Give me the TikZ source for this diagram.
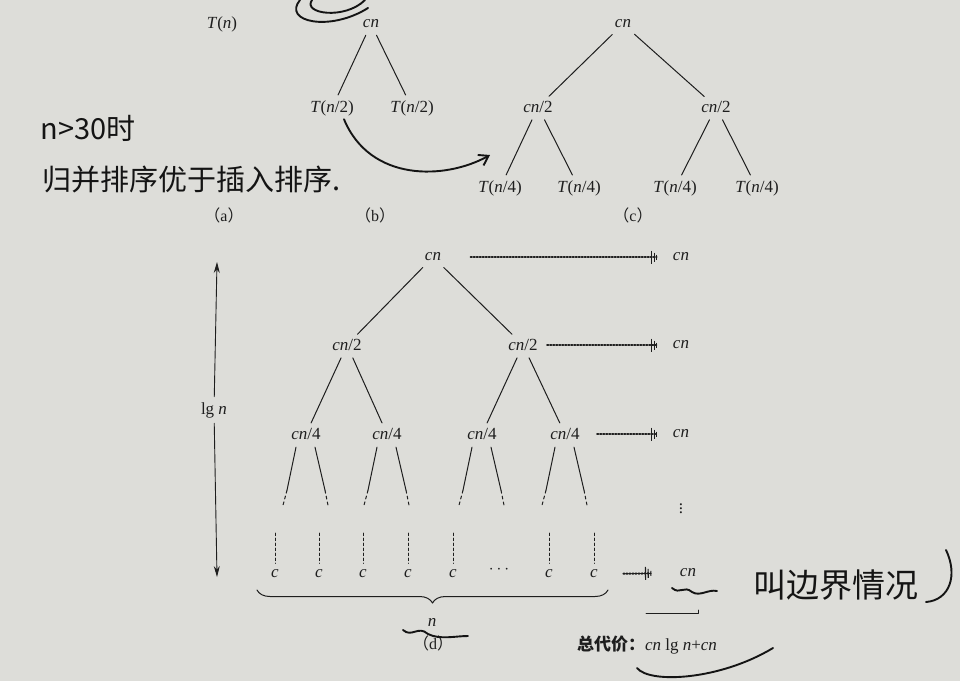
\documentclass[tikz,border=0pt]{standalone}
\usepackage{fontspec}
\setmainfont{Liberation Serif}
\newfontfamily\cjk{Noto Sans CJK SC}
\usetikzlibrary{positioning,arrows.meta,decorations.pathreplacing}

\definecolor{paper}{RGB}{221,221,217}
\definecolor{ink}{RGB}{30,30,30}

\newcommand\mi[1]{\textit{#1}}

\tikzset{
  edge/.style={ink, line width=1pt, shorten <=4pt, shorten >=2pt},
  costline/.style={ink, line width=2pt, dash pattern=on 1.3pt off 1.7pt,
    -{Bar[width=13pt,line width=1.1pt,sep=1.6pt]Bar[width=9pt,line width=1.1pt,sep=1.6pt]Bar[width=5pt,line width=1.1pt]}},
  axis/.style={ink, line width=0.9pt, -{Stealth[length=11pt,width=6pt]}},
  hand/.style={black!92, line width=1.9pt},
  handtext/.style={black!92, font=\cjk\fontsize{29}{32}\selectfont},
  caption/.style={font=\fontsize{16}{18}\selectfont},
}

\begin{document}
\begin{tikzpicture}[x=1pt, y=-1pt, line cap=round, line join=round,
  every node/.style={ink, font=\fontsize{17}{20}\selectfont}]

\fill[paper] (0,0) rectangle (960,681);
\useasboundingbox (0,0) rectangle (960,681);

% (a)
\node (Tn) at (222,24) {\mi{T}(\mi{n})};
\node[caption] (capa) at (224,215) {{\cjk（}a{\cjk）}};

% (b)
\node (b0) at (371,24) {\mi{cn}};
\node (b1) at (332,108) {\mi{T}(\mi{n}/2)};
\node (b2) at (412,108) {\mi{T}(\mi{n}/2)};
\draw[edge] (b0) -- (b1);
\draw[edge] (b0) -- (b2);
\node[caption] (capb) at (375,215) {{\cjk（}b{\cjk）}};

% (c)
\node (c0) at (623,24) {\mi{cn}};
\node (c1) at (538,107) {\mi{cn}/2};
\node (c2) at (716,107) {\mi{cn}/2};
\foreach \x [count=\i] in {500,579,675,757} {
    \node (c1\i) at (\x,188) {\mi{T}(\mi{n}/4)};
}
\draw[edge] (c0) -- (c1);
\draw[edge] (c0) -- (c2);
\draw[edge] (c1) -- (c11);
\draw[edge] (c1) -- (c12);
\draw[edge] (c2) -- (c13);
\draw[edge] (c2) -- (c14);
\node[caption] (capc) at (633,215) {{\cjk（}c{\cjk）}};

% (d) recursion tree
\node (d0) at (433,257) {\mi{cn}};
\node (d1) at (347,345) {\mi{cn}/2};
\node (d2) at (523,345) {\mi{cn}/2};
\node (d11) at (306,434) {\mi{cn}/4};
\node (d12) at (387,434) {\mi{cn}/4};
\node (d21) at (482,434) {\mi{cn}/4};
\node (d22) at (565,434) {\mi{cn}/4};
\draw[edge] (d0) -- (d1);
\draw[edge] (d0) -- (d2);
\draw[edge] (d1) -- (d11);
\draw[edge] (d1) -- (d12);
\draw[edge] (d2) -- (d21);
\draw[edge] (d2) -- (d22);

\foreach \n in {d11,d12,d21,d22} {
    \draw[ink, line width=1pt] ([xshift=-10pt,yshift=-4pt]\n.south) -- ++(-9,43) coordinate (\n-l);
    \draw[ink, line width=1pt, dash pattern=on 3pt off 3pt] (\n-l) -- ++(-4,15);
    \draw[ink, line width=1pt] ([xshift=9pt,yshift=-4pt]\n.south) -- ++(10,43) coordinate (\n-r);
    \draw[ink, line width=1pt, dash pattern=on 3pt off 3pt] (\n-r) -- ++(3,15);
}

% leaves
\foreach \x [count=\i] in {275,319,363,408,453,549,594} {
    \node (leaf\i) at (\x,574) {\mi{c}};
    \coordinate (lt\i) at (\x,533);
    \draw[ink, line width=1pt, dash pattern=on 2.5pt off 2.5pt, shorten >=3pt] (lt\i) -- (leaf\i);
}
\node (ldots) at (499,570) {$\cdots$};

% cost per level
\node (s0) at (681,257) {\mi{cn}};
\node (s1) at (681,345) {\mi{cn}};
\node (s2) at (681,434) {\mi{cn}};
\node (sv) at (681,506) {$\vdots$};
\node (s4) at (688,573) {\mi{cn}};
\draw[costline, shorten <=26pt, shorten >=12pt] (d0) -- (s0);
\draw[costline, shorten <=6pt, shorten >=12pt] (d2) -- (s1);
\draw[costline, shorten <=14pt, shorten >=12pt] (d22) -- (s2);
\draw[costline, shorten <=22pt, shorten >=25pt] (leaf7) -- (s4);

% height
\node (lg) at (214,410) {lg \mi{n}};
\coordinate (htop) at (217,262);
\coordinate (hbot) at (217,577);
\draw[axis, shorten <=2pt] (lg) -- (htop);
\draw[axis, shorten <=2pt] (lg) -- (hbot);

% width
\coordinate (bl) at (257,590);
\coordinate (br) at (608,590);
\draw[ink, line width=1pt, decorate, decoration={brace, mirror, amplitude=13pt}] (bl) -- (br);
\node (nn) at (432,622) {\mi{n}};
\node[caption] (capd) at (433,643) {{\cjk（}d{\cjk）}};

% total
\coordinate (sl) at (646,613);
\coordinate (sr) at (698,613);
\draw[ink, line width=0.9pt] (sl) -- (sr) -- ++(0,-3);
\node (total) at (647,645) {{\cjk\bfseries 总代价：}\mi{cn} lg \mi{n}+\mi{cn}};

% handwritten notes
\node[handtext] (note1) at (88,128) {n>30时};
\node[handtext] (note2) at (192,180) {归并排序优于插入排序.};
\coordinate (harrow) at (490,155);
\draw[hand, -{Straight Barb[length=9pt,width=12pt]}] ([xshift=12pt]b1.south) .. controls (370,182) and (445,180) .. (harrow);
\draw[hand] (300,0) .. controls (282,22) and (330,32) .. (368,8);
\draw[hand] (312,0) .. controls (302,14) and (345,20) .. (365,0);
\node[handtext, font=\cjk\fontsize{33}{35}\selectfont] (note3) at (836,585) {叫边界情况};
\draw[hand] (946,550) .. controls (958,575) and (950,600) .. (926,602);
\draw[hand] (672,588) .. controls (680,595) and (684,585) .. (692,592) .. controls (700,597) and (708,589) .. (717,591);
\draw[hand] (403,630) .. controls (412,638) and (418,625) .. (428,634) .. controls (440,640) and (455,636) .. (468,636);
\draw[hand] (637,668) .. controls (650,684) and (720,680) .. (773,648);

\end{tikzpicture}
\end{document}
